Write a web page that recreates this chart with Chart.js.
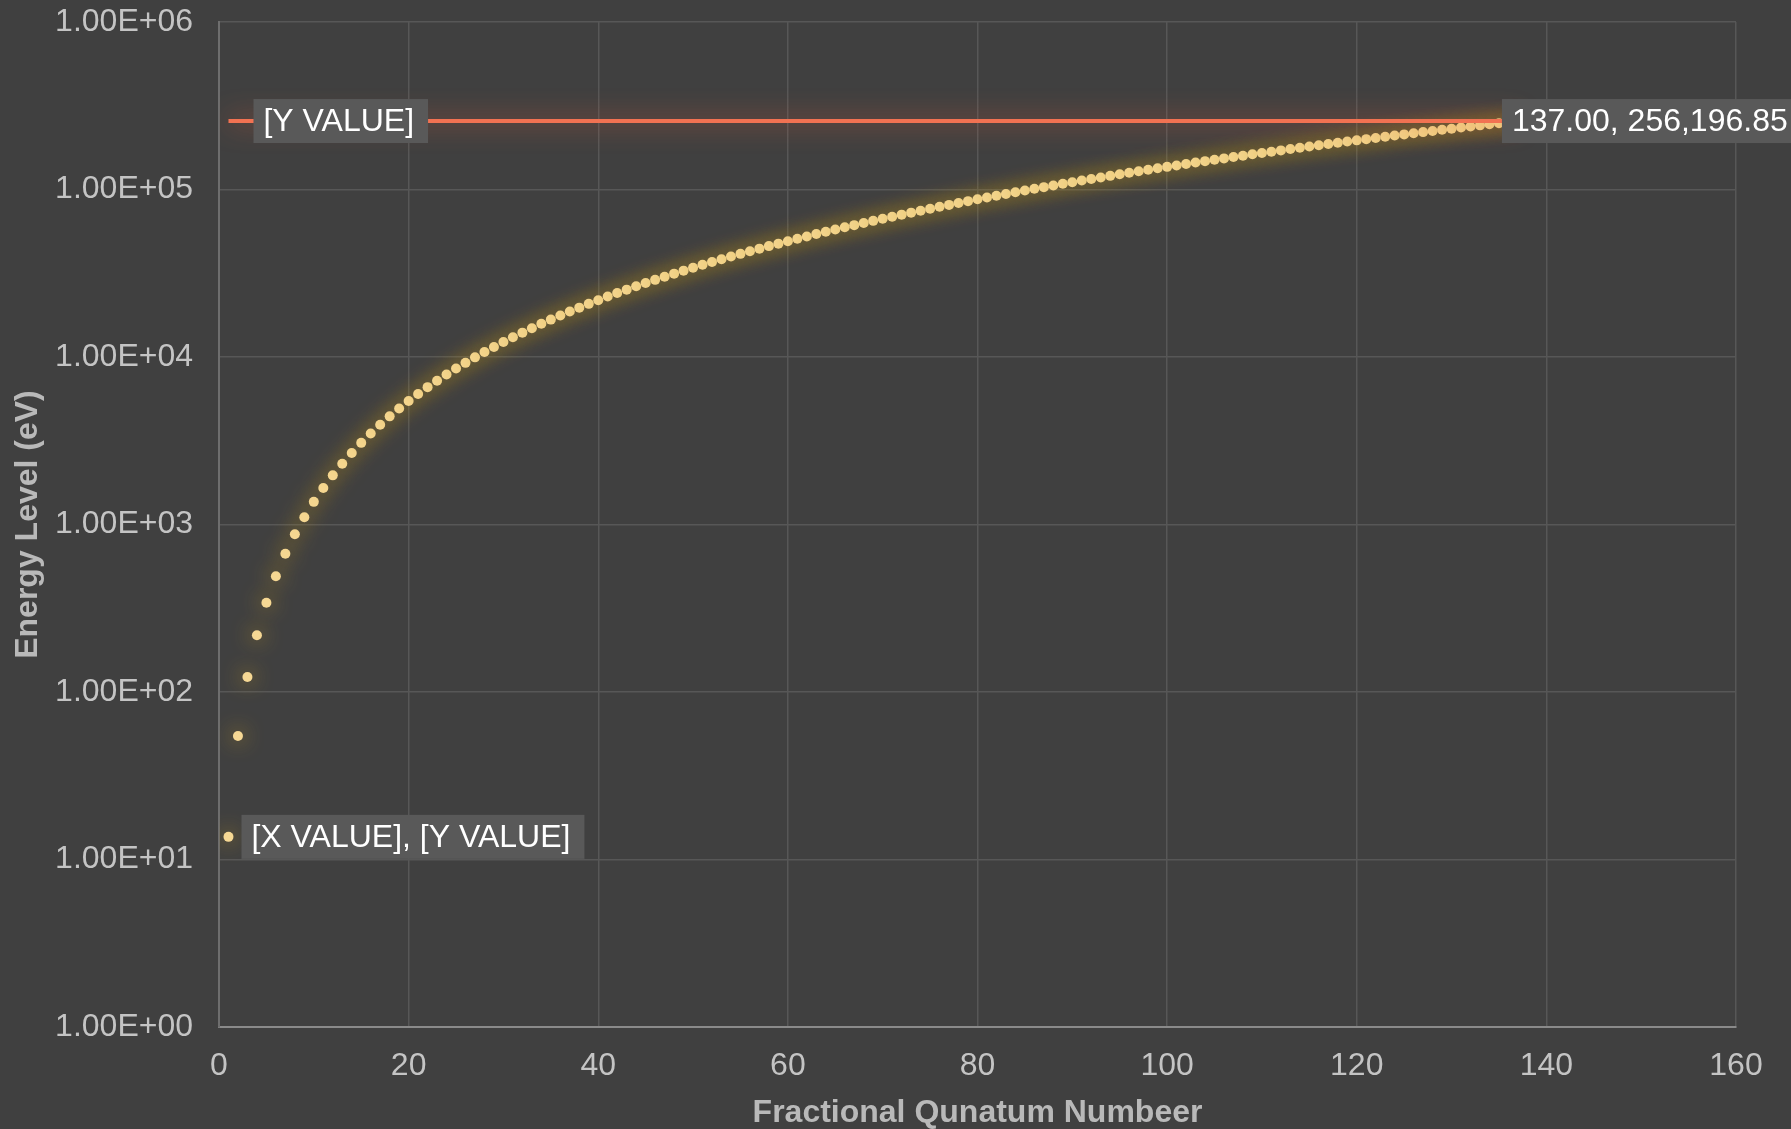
<!DOCTYPE html>
<html lang="en">
<head>
    <meta charset="UTF-8">
    <script src="https://cdn.jsdelivr.net/npm/chart.js@4.4.0/dist/chart.umd.min.js"></script>
    <style>
        body { margin: 0; background: #404040; }
        #wrap { width: 1791px; height: 1129px; }
    </style>
</head>
<body>
    <div id="wrap"><canvas id="myChart" width="1791" height="1129"></canvas></div>
    <script>
        // quantum number n and energy (eV)
        const nValues = [1, 2, 3, 4, 5, 6, 7, 8, 9, 10, 11, 12, 13, 14, 15, 16, 17, 18, 19, 20,
            21, 22, 23, 24, 25, 26, 27, 28, 29, 30, 31, 32, 33, 34, 35, 36, 37, 38, 39, 40,
            41, 42, 43, 44, 45, 46, 47, 48, 49, 50, 51, 52, 53, 54, 55, 56, 57, 58, 59, 60,
            61, 62, 63, 64, 65, 66, 67, 68, 69, 70, 71, 72, 73, 74, 75, 76, 77, 78, 79, 80,
            81, 82, 83, 84, 85, 86, 87, 88, 89, 90, 91, 92, 93, 94, 95, 96, 97, 98, 99, 100,
            101, 102, 103, 104, 105, 106, 107, 108, 109, 110, 111, 112, 113, 114, 115, 116, 117, 118, 119, 120,
            121, 122, 123, 124, 125, 126, 127, 128, 129, 130, 131, 132, 133, 134, 135, 136, 137];
        const energy = [13.65, 54.6, 122.85, 218.4, 341.25, 491.4, 668.85, 873.6, 1105.65, 1365,
            1651.65, 1965.6, 2306.85, 2675.4, 3071.25, 3494.4, 3944.85, 4422.6, 4927.65, 5460,
            6019.65, 6606.6, 7220.85, 7862.4, 8531.25, 9227.4, 9950.85, 10701.6, 11479.65, 12285,
            13117.65, 13977.6, 14864.85, 15779.4, 16721.25, 17690.4, 18686.85, 19710.6, 20761.65, 21840,
            22945.65, 24078.6, 25238.85, 26426.4, 27641.25, 28883.4, 30152.85, 31449.6, 32773.65, 34125,
            35503.65, 36909.6, 38342.85, 39803.4, 41291.25, 42806.4, 44348.85, 45918.6, 47515.65, 49140,
            50791.65, 52470.6, 54176.85, 55910.4, 57671.25, 59459.4, 61274.85, 63117.6, 64987.65, 66885,
            68809.65, 70761.6, 72740.85, 74747.4, 76781.25, 78842.4, 80930.85, 83046.6, 85189.65, 87360,
            89557.65, 91782.6, 94034.85, 96314.4, 98621.25, 100955.4, 103316.85, 105705.6, 108121.65, 110565,
            113035.65, 115533.6, 118058.85, 120611.4, 123191.25, 125798.4, 128432.85, 131094.6, 133783.65, 136500,
            139243.65, 142014.6, 144812.85, 147638.4, 150491.25, 153371.4, 156278.85, 159213.6, 162175.65, 165165,
            168181.65, 171225.6, 174296.85, 177395.4, 180521.25, 183674.4, 186854.85, 190062.6, 193297.65, 196560,
            199849.65, 203166.6, 206510.85, 209882.4, 213281.25, 216707.4, 220160.85, 223641.6, 227149.65, 230685,
            234247.65, 237837.6, 241454.85, 245099.4, 248771.25, 252470.4, 256196.85];
        // horizontal limit line
        const limitX = [1, 137];
        const limitY = [256196.85, 256196.85];
        const yTicks = [1, 10, 100, 1000, 10000, 100000, 1000000];
        const labelTexts = ['[X VALUE], [Y VALUE]', '137.00, 256,196.85', '[Y VALUE]'];

        const FONT = "'Liberation Sans', Arial, sans-serif";

        function sci(v) {
            const e = Math.round(Math.log10(v));
            const m = v / Math.pow(10, e);
            return m.toFixed(2) + 'E' + (e < 0 ? '-' : '+') + String(Math.abs(e)).padStart(2, '0');
        }

        // soft glow behind each series
        const glow = {
            id: 'glow',
            beforeDatasetDraw(chart, args) {
                const c = chart.ctx;
                const ds = chart.data.datasets[args.index];
                c.save();
                c.shadowColor = ds.glowColor;
                c.shadowBlur = ds.glowBlur;
            },
            afterDatasetDraw(chart) {
                chart.ctx.restore();
            }
        };

        // grey data label boxes
        const boxLabels = {
            id: 'boxLabels',
            afterDatasetsDraw(chart) {
                const c = chart.ctx;
                const pts = chart.getDatasetMeta(0).data;
                const line = chart.getDatasetMeta(1).data;
                const items = [
                    { el: pts[0], text: labelTexts[0], dx: 13 },
                    { el: pts[pts.length - 1], text: labelTexts[1], dx: -16 },
                    { el: line[0], text: labelTexts[2], dx: 25 }
                ];
                c.save();
                c.font = '32px ' + FONT;
                c.textBaseline = 'middle';
                items.forEach(it => {
                    const w = c.measureText(it.text).width;
                    const x = it.el.x + it.dx;
                    const y = it.el.y;
                    c.fillStyle = '#595959';
                    c.fillRect(x, y - 22, w + 24, 44);
                    c.fillStyle = '#ffffff';
                    c.fillText(it.text, x + 10, y + 1);
                });
                c.restore();
            }
        };

        const ctx = document.getElementById('myChart');

        new Chart(ctx, {
            type: 'scatter',
            data: {
                datasets: [{
                        label: 'Energy',
                        data: nValues.map((n, i) => ({ x: n, y: energy[i] })),
                        pointStyle: 'circle',
                        pointRadius: 5,
                        pointBackgroundColor: '#f6d894',
                        pointBorderWidth: 0,
                        glowColor: 'rgba(200, 155, 30, 1)',
                        glowBlur: 20,
                        order: 2
                    },
                    {
                        label: 'Limit',
                        data: limitX.map((x, i) => ({ x: x, y: limitY[i] })),
                        showLine: true,
                        pointRadius: 0,
                        borderColor: '#f27252',
                        borderWidth: 4,
                        glowColor: 'rgba(235, 95, 55, 0.9)',
                        glowBlur: 26,
                        order: 1
                    }
                ]
            },
            plugins: [glow, boxLabels],
            options: {
                responsive: false,
                devicePixelRatio: 1,
                animation: false,
                layout: { padding: { left: 0, top: 0, right: 55, bottom: 0 } },
                plugins: {
                    legend: { display: false },
                    tooltip: { enabled: false }
                },
                scales: {
                    x: {
                        type: 'linear',
                        min: 0,
                        max: 160,
                        afterFit: s => { s.height = 102; },
                        ticks: { stepSize: 20, color: '#c4c4c4', padding: 20, font: { size: 32, family: FONT } },
                        grid: { color: '#575757', lineWidth: 1.5, drawTicks: false },
                        border: { color: '#8a8a8a', width: 2 },
                        title: {
                            display: true,
                            text: 'Fractional Qunatum Numbeer',
                            color: '#b9b9b9',
                            font: { size: 32, weight: 'bold', family: FONT, lineHeight: 1 },
                            padding: { top: 0, bottom: 0 }
                        }
                    },
                    y: {
                        type: 'logarithmic',
                        min: 1,
                        max: 1000000,
                        afterFit: s => {
                            s.width = 219;
                            s.paddingTop = 22;
                            s.paddingBottom = 0;
                        },
                        afterBuildTicks: s => { s.ticks = yTicks.map(v => ({ value: v })); },
                        ticks: {
                            color: '#c4c4c4',
                            padding: 26,
                            font: { size: 32, family: FONT },
                            callback: v => sci(v)
                        },
                        grid: { color: '#575757', lineWidth: 1.5, drawTicks: false },
                        border: { color: '#6e6e6e', width: 2 },
                        title: {
                            display: true,
                            text: 'Energy Level (eV)',
                            color: '#b9b9b9',
                            font: { size: 32, weight: 'bold', family: FONT, lineHeight: 1 },
                            padding: { top: 12, bottom: 0 }
                        }
                    }
                }
            }
        });
    </script>
</body>
</html>
